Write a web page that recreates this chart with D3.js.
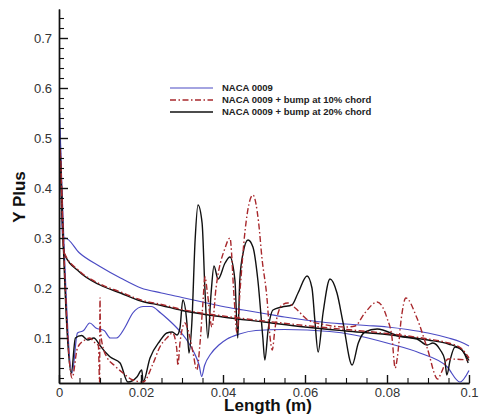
<!DOCTYPE html>
<html lang="en">
<head>
  <meta charset="UTF-8" />
  <title>Y Plus along chord</title>
  <script src="https://d3js.org/d3.v7.min.js"></script>
  <style>
    html, body { margin: 0; padding: 0; background: #fff; overflow: hidden; }
    svg { display: block; }
    .tick text { font-family: "Liberation Sans", Arial, sans-serif; font-size: 13px; fill: #333; }
    .axis path, .axis line { stroke: #111; stroke-width: 1.4px; }
    .minor line { stroke-width: 1.1px; }
    .title { font-family: "Liberation Sans", Arial, sans-serif; font-weight: bold; font-size: 17px; fill: #111; }
    .legend text { font-family: "Liberation Sans", Arial, sans-serif; font-weight: bold; font-size: 9.5px; fill: #222; }
    .curve { fill: none; stroke-linejoin: round; }
  </style>
</head>
<body>
  <svg width="481" height="419"></svg>
  <script>
    // legend labels
    const seriesNames = ["NACA 0009", "NACA 0009 + bump at 10% chord", "NACA 0009 + bump at 20% chord"];
    const xTicks = [0, 0.02, 0.04, 0.06, 0.08, 0.1];
    const yTicks = [0.1, 0.2, 0.3, 0.4, 0.5, 0.6, 0.7];

    // NACA 0009, two surfaces  [x (m), y+]
    const cleanUpper = [
      [0, 0.015], [0.0002, 0.55], [0.0008, 0.30], [0.0015, 0.30], [0.005, 0.27], [0.01, 0.243],
      [0.015, 0.22], [0.02, 0.2], [0.025, 0.19], [0.03, 0.181], [0.035, 0.172], [0.04, 0.163],
      [0.045, 0.156], [0.05, 0.149], [0.055, 0.142], [0.06, 0.136], [0.065, 0.131], [0.07, 0.128],
      [0.075, 0.125], [0.08, 0.122], [0.085, 0.117], [0.09, 0.11], [0.095, 0.1], [0.098, 0.092], [0.1, 0.084]
    ];
    const cleanLower = [
      [0.0003, 0.5], [0.0032, 0.03], [0.0045, 0.11], [0.006, 0.115], [0.0075, 0.13], [0.009, 0.12],
      [0.011, 0.115], [0.0125, 0.1], [0.014, 0.1], [0.016, 0.12], [0.018, 0.15], [0.0205, 0.163],
      [0.0225, 0.163], [0.0248, 0.15], [0.0265, 0.138], [0.029, 0.118], [0.031, 0.098], [0.033, 0.07],
      [0.0342, 0.045], [0.0348, 0.023], [0.0355, 0.045], [0.037, 0.068], [0.039, 0.086], [0.041, 0.098],
      [0.044, 0.108], [0.048, 0.115], [0.055, 0.117], [0.066, 0.113], [0.072, 0.106], [0.08, 0.09],
      [0.088, 0.07], [0.0946, 0.043], [0.0978, 0.012], [0.1, 0.035]
    ];

    // bump at 10% chord
    const bump10Upper = [
      [0, 0.015], [0.0002, 0.48], [0.0012, 0.272], [0.005, 0.234], [0.01, 0.208], [0.015, 0.192],
      [0.02, 0.176], [0.025, 0.167], [0.03, 0.157], [0.04, 0.144], [0.05, 0.134], [0.06, 0.125],
      [0.066, 0.12], [0.07, 0.117], [0.08, 0.109], [0.09, 0.098], [0.095, 0.09], [0.098, 0.08], [0.1, 0.06]
    ];
    const bump10Lower = [
      [0.0003, 0.48], [0.0032, 0.02], [0.0045, 0.08], [0.0063, 0.096], [0.0075, 0.1], [0.0088, 0.09],
      [0.0096, 0.085], [0.0099, 0.012], [0.01, 0.18], [0.0101, 0.12], [0.0105, 0.09], [0.0118, 0.06],
      [0.0134, 0.046], [0.0156, 0.03], [0.018, 0.016], [0.0205, 0.012], [0.023, 0.05], [0.0246, 0.082],
      [0.0263, 0.1], [0.0277, 0.11], [0.0287, 0.08], [0.029, 0.045], [0.0295, 0.09], [0.0307, 0.13],
      [0.0315, 0.115], [0.0327, 0.07], [0.0336, 0.036], [0.0344, 0.09], [0.0351, 0.17], [0.0356, 0.222],
      [0.0362, 0.19], [0.0373, 0.122], [0.0383, 0.2], [0.0405, 0.28], [0.0417, 0.3], [0.0427, 0.182],
      [0.0434, 0.11], [0.0442, 0.2], [0.0454, 0.316], [0.0473, 0.386], [0.0487, 0.33], [0.0495, 0.26],
      [0.0507, 0.182], [0.0515, 0.1], [0.052, 0.076], [0.0527, 0.12], [0.0544, 0.166], [0.0558, 0.17],
      [0.0576, 0.16], [0.0607, 0.136], [0.064, 0.128], [0.07, 0.122], [0.0722, 0.124], [0.0746, 0.15],
      [0.0776, 0.172], [0.08, 0.14], [0.0812, 0.102], [0.082, 0.04], [0.0825, 0.06], [0.0835, 0.14],
      [0.0846, 0.18], [0.0873, 0.14], [0.0898, 0.08], [0.0924, 0.018], [0.0932, 0.03], [0.0949, 0.058],
      [0.0998, 0.056]
    ];

    // bump at 20% chord
    const bump20Upper = [
      [0, 0.015], [0.0002, 0.48], [0.0012, 0.27], [0.005, 0.232], [0.01, 0.206], [0.015, 0.19],
      [0.02, 0.174], [0.025, 0.165], [0.03, 0.155], [0.04, 0.142], [0.05, 0.132], [0.06, 0.122],
      [0.066, 0.117], [0.07, 0.114], [0.08, 0.107], [0.09, 0.096], [0.095, 0.088], [0.098, 0.078], [0.1, 0.055]
    ];
    const bump20Lower = [
      [0.0003, 0.46], [0.003, 0.03], [0.004, 0.1], [0.0055, 0.105], [0.007, 0.096], [0.0085, 0.1],
      [0.01, 0.085], [0.0115, 0.07], [0.0125, 0.062], [0.0149, 0.05], [0.0168, 0.012], [0.019, 0.022],
      [0.0202, 0.036], [0.0205, 0.012], [0.0222, 0.06], [0.0246, 0.094], [0.0263, 0.11], [0.0276, 0.112],
      [0.0288, 0.106], [0.0295, 0.12], [0.0302, 0.176], [0.0312, 0.13], [0.0317, 0.07], [0.0324, 0.13],
      [0.0332, 0.296], [0.0339, 0.366], [0.0349, 0.33], [0.0356, 0.196], [0.0363, 0.1], [0.0371, 0.19],
      [0.0378, 0.244], [0.0388, 0.218], [0.0405, 0.25], [0.0417, 0.262], [0.0429, 0.216], [0.0436, 0.1],
      [0.0441, 0.216], [0.0449, 0.27], [0.0461, 0.296], [0.0473, 0.282], [0.0485, 0.216], [0.0497, 0.102],
      [0.0502, 0.056], [0.051, 0.116], [0.0522, 0.156], [0.0544, 0.162], [0.0568, 0.166], [0.0583, 0.19],
      [0.0605, 0.224], [0.0617, 0.2], [0.0624, 0.136], [0.0632, 0.072], [0.0644, 0.15], [0.0661, 0.218],
      [0.0678, 0.19], [0.0693, 0.13], [0.0715, 0.046], [0.073, 0.09], [0.0746, 0.112], [0.0776, 0.118],
      [0.0832, 0.103], [0.0873, 0.098], [0.0898, 0.086], [0.0912, 0.09], [0.093, 0.076], [0.0941, 0.056],
      [0.0946, 0.026], [0.0954, 0.056], [0.0966, 0.082], [0.0983, 0.076], [0.0998, 0.05]
    ];

    const svg = d3.select("svg");
    const x = d3.scaleLinear().domain([0, 0.1]).range([59, 469]);
    const y = d3.scaleLinear().domain([0.01, 0.758]).range([383, 9]);

    svg.append("defs").append("clipPath").attr("id", "plot")
      .append("rect").attr("x", 59).attr("y", 0).attr("width", 412).attr("height", 383);

    const line = d3.line()
      .x(d => x(d[0]))
      .y(d => y(d[1]))
      .curve(d3.curveMonotoneX);

    const styles = [
      { color: "#4b4bc4", width: 1.2, dash: null },
      { color: "#a8282c", width: 1.4, dash: "6,2.5,1.5,2.5" },
      { color: "#111", width: 1.4, dash: null }
    ];
    const curves = [
      { s: 0, d: cleanUpper }, { s: 0, d: cleanLower },
      { s: 2, d: bump20Upper }, { s: 2, d: bump20Lower },
      { s: 1, d: bump10Upper }, { s: 1, d: bump10Lower }
    ];

    svg.append("g").attr("clip-path", "url(#plot)")
      .selectAll("path")
      .data(curves)
      .enter()
      .append("path")
      .attr("class", "curve")
      .attr("d", c => line(c.d))
      .attr("stroke", c => styles[c.s].color)
      .attr("stroke-width", c => styles[c.s].width)
      .attr("stroke-dasharray", c => styles[c.s].dash);

    // axes, ticks pointing into the plot
    const minorX = d3.range(0.005, 0.1, 0.005).filter(v => Math.abs(v / 0.02 - Math.round(v / 0.02)) > 1e-6);
    const minorY = d3.range(0.02, 0.758, 0.02).filter(v => Math.abs(v * 10 - Math.round(v * 10)) > 1e-6);

    svg.append("g").attr("class", "axis minor").attr("transform", "translate(0,383)")
      .call(d3.axisBottom(x).tickValues(minorX).tickSize(-5).tickSizeOuter(0).tickFormat(""));
    svg.append("g").attr("class", "axis").attr("transform", "translate(0,383)")
      .call(d3.axisBottom(x).tickValues(xTicks).tickSize(-8).tickSizeOuter(0).tickPadding(5)
        .tickFormat(d3.format("~g")));

    svg.append("g").attr("class", "axis minor").attr("transform", "translate(59,0)")
      .call(d3.axisLeft(y).tickValues(minorY).tickSize(-5).tickSizeOuter(0).tickFormat(""));
    svg.append("g").attr("class", "axis").attr("transform", "translate(59,0)")
      .call(d3.axisLeft(y).tickValues(yTicks).tickSize(-9).tickSizeOuter(0).tickPadding(7)
        .tickFormat(d3.format(".1f")));

    svg.append("text").attr("class", "title")
      .attr("x", 268).attr("y", 411).attr("text-anchor", "middle")
      .text("Length (m)");
    svg.append("text").attr("class", "title")
      .attr("transform", "translate(25,197) rotate(-90)")
      .attr("text-anchor", "middle")
      .text("Y Plus");

    // legend
    const legend = svg.append("g").attr("class", "legend");
    const rows = legend.selectAll("g").data(seriesNames).enter().append("g")
      .attr("transform", (d, i) => `translate(170,${88 + i * 12})`);
    rows.append("line")
      .attr("x1", 0).attr("x2", 43)
      .attr("stroke", (d, i) => styles[i].color)
      .attr("stroke-width", (d, i) => styles[i].width)
      .attr("stroke-dasharray", (d, i) => styles[i].dash);
    rows.append("text").attr("x", 52).attr("dy", "0.35em").text(d => d);
  </script>
</body>
</html>
